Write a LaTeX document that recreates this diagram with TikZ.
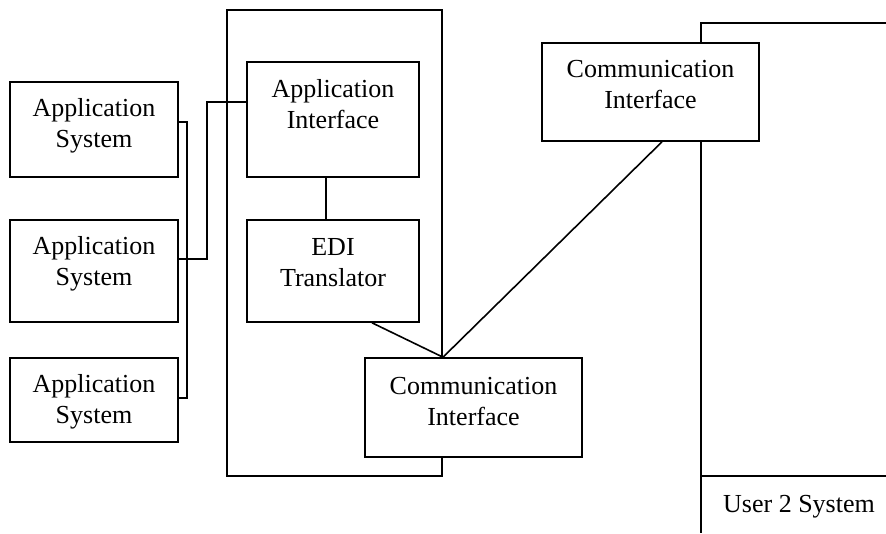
\documentclass[tikz,border=0pt]{standalone}
\usepackage{fontspec}
\setmainfont{Liberation Serif}
\begin{document}
\begin{tikzpicture}[x=1pt,y=-1pt,
  line width=1.6pt,
  box/.style={draw, fill=white, rectangle, inner sep=0pt},
  lbl/.style={font=\fontsize{26}{31}\selectfont, align=center, inner sep=0pt, anchor=base},
  link/.style={draw}
]
\useasboundingbox (0,0) rectangle (886,533);

% EDI system enclosure
\node[box, fill=none, minimum width=215pt, minimum height=466pt] (sys) at (334.5,243) {};

% User 2 system frame
\coordinate (u2top) at (701,23);
\coordinate (u2right) at (886,23);
\coordinate (u2bottom) at (701,533);
\coordinate (u2sep) at (701,476);
\coordinate (u2sepend) at (886,476);
\draw (u2right) -- (u2top) -- (u2bottom);
\draw (u2sep) -- (u2sepend);
\node[lbl] (u2) at (799,512) {User 2 System};

% Application systems
\node[box, minimum width=168pt, minimum height=95pt]  (as1) at (94,129.5) {};
\node[box, minimum width=168pt, minimum height=102pt] (as2) at (94,271) {};
\node[box, minimum width=168pt, minimum height=84pt]  (as3) at (94,400) {};
\node[lbl] (as1t) at (94,147) {Application\\System};
\node[lbl] (as2t) at (94,285) {Application\\System};
\node[lbl] (as3t) at (94,423) {Application\\System};

% Translator side
\node[box, minimum width=172pt, minimum height=115pt] (ai)  at (333,119.5) {};
\node[box, minimum width=172pt, minimum height=102pt] (edi) at (333,271) {};
\node[lbl] (ait)  at (333,128) {Application\\Interface};
\node[lbl] (edit) at (333,286) {EDI\\Translator};

% Links between the systems and the interface
\coordinate (busA) at (187,122);
\coordinate (busB) at (187,398);
\draw ([yshift=7.5pt]as1.east) -- (busA) -- (busB) -- ([yshift=2pt]as3.east);
\coordinate (upA) at (207,259);
\coordinate (upB) at (207,102);
\draw ([yshift=12pt]as2.east) -- (upA) -- (upB) -- ([yshift=17.5pt]ai.west);
\draw ([xshift=-7pt]ai.south) -- ([xshift=-7pt]edi.north);

% Communication interfaces
\node[box, minimum width=217pt, minimum height=99pt] (ci1) at (473.5,407.5) {};
\node[box, minimum width=217pt, minimum height=98pt] (ci2) at (650.5,92) {};
\node[lbl] (ci1t) at (473.5,425) {Communication\\Interface};
\node[lbl] (ci2t) at (650.5,108) {Communication\\Interface};

\draw ([xshift=39pt]edi.south) -- ([xshift=-30.5pt]ci1.north);
\draw ([xshift=-30.5pt]ci1.north) -- ([xshift=11.5pt]ci2.south);
\end{tikzpicture}
\end{document}
